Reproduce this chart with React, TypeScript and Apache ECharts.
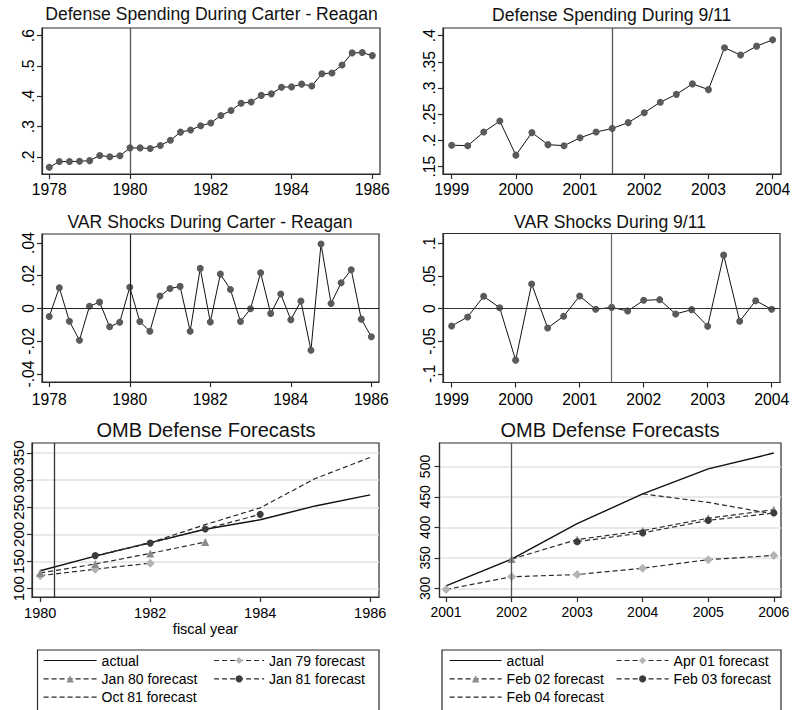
import React, { useEffect, useRef } from 'react';
import * as echarts from 'echarts';

const FONT = '"Liberation Sans", Arial, Helvetica, sans-serif';

// ---------- Data ----------
// Quarterly defense spending (share), Carter-Reagan, from 1978Q1
const carterStartYear = 1978;
const carterSpending = [
  0.166, 0.185, 0.185, 0.186, 0.188, 0.205, 0.201, 0.204, 0.23, 0.23, 0.228,
  0.238, 0.255, 0.282, 0.289, 0.303, 0.312, 0.337, 0.353, 0.377, 0.381, 0.403,
  0.408, 0.43, 0.431, 0.44, 0.434, 0.474, 0.477, 0.503, 0.543, 0.544, 0.534,
];
const carterShocks = [
  -0.0049, 0.0127, -0.0078, -0.0194, 0.0014, 0.0039, -0.0112, -0.0084, 0.013,
  -0.008, -0.0139, 0.0076, 0.0122, 0.0135, -0.0139, 0.0245, -0.0082, 0.021,
  0.0116, -0.008, -0.0002, 0.0218, -0.0031, 0.0088, -0.0069, 0.0045, -0.0255,
  0.0394, 0.0031, 0.0157, 0.0237, -0.0065, -0.0173,
];
// Quarterly, 9/11 period, from 1999Q1
const nineElevenStartYear = 1999;
const nineElevenSpending = [
  0.191, 0.19, 0.216, 0.237, 0.172, 0.215, 0.192, 0.19, 0.205, 0.216, 0.223,
  0.234, 0.253, 0.273, 0.288, 0.308, 0.297, 0.377, 0.363, 0.38, 0.392,
];
const nineElevenShocks = [
  -0.0265, -0.0128, 0.0189, 0.0015, -0.079, 0.0378, -0.0296, -0.0117, 0.0194,
  -0.001, 0.002, -0.0036, 0.0128, 0.0138, -0.0082, -0.0015, -0.027, 0.0821,
  -0.0194, 0.0122, -0.001,
];
const carterEventYear = 1980;
const nineElevenEventYear = 2001.5;

// OMB forecasts, Carter-Reagan
const actual80Years = [1980, 1981, 1982, 1983, 1984, 1985, 1986];
const actual80 = [133, 160, 185, 209.5, 227, 252.5, 273];
const jan79Years = [1980, 1981, 1982];
const jan79 = [124, 136, 147];
const jan80Years = [1980, 1981, 1982, 1983];
const jan80 = [129, 145.5, 165, 186];
const jan81Years = [1981, 1982, 1983, 1984];
const jan81 = [161, 184, 210, 237];
const oct81Years = [1981, 1982, 1983, 1984, 1985, 1986];
const oct81 = [160, 185, 218, 249, 303, 342];
const omb80EventYear = 1980.25;

// OMB forecasts, 9/11
const actual01Years = [2001, 2002, 2003, 2004, 2005, 2006];
const actual01 = [304, 348, 406, 455, 496, 522];
const apr01Years = [2001, 2002, 2003, 2004, 2005, 2006];
const apr01 = [298, 319, 322.5, 333, 347, 354];
const feb02Years = [2002, 2003, 2004, 2005, 2006];
const feb02 = [348, 380, 394.5, 415, 429];
const feb03Years = [2003, 2004, 2005, 2006];
const feb03 = [376.5, 391, 411.5, 423.5];
const feb04Years = [2004, 2005, 2006];
const feb04 = [455, 441, 422];
const omb01EventYear = 2002;

// Tick values
const carterYearTicks = [1978, 1980, 1982, 1984, 1986];
const nineElevenYearTicks = [1999, 2000, 2001, 2002, 2003, 2004];
const carterSpendingTicks = [0.2, 0.3, 0.4, 0.5, 0.6];
const nineElevenSpendingTicks = [0.15, 0.2, 0.25, 0.3, 0.35, 0.4];
const carterShockTicks = [-0.04, -0.02, 0, 0.02, 0.04];
const nineElevenShockTicks = [-0.1, -0.05, 0, 0.05, 0.1];
const omb80YearTicks = [1980, 1982, 1984, 1986];
const omb80ValueTicks = [100, 150, 200, 250, 300, 350];
const omb01YearTicks = [2001, 2002, 2003, 2004, 2005, 2006];
const omb01ValueTicks = [300, 350, 400, 450, 500];

// ---------- Helpers ----------
const quarterly = (start: number, vals: number[]) =>
  vals.map((v, i) => [start + i * 0.25, v]);
const pairs = (xs: number[], ys: number[]) => xs.map((x, i) => [x, ys[i]]);

const stataNum = (v: number) => {
  const s = String(+Number(v).toFixed(4));
  return s.replace(/^0\./, '.').replace(/^-0\./, '-.');
};

const AXIS_COLOR = '#2a2a2a';

function xAx(grid: number, min: number, max: number, ticks: number[], fontSize: number, margin: number, extra: any = {}) {
  return {
    type: 'value',
    gridIndex: grid,
    min,
    max,
    axisLine: { show: true, onZero: false, lineStyle: { color: AXIS_COLOR, width: 1.2 } },
    axisTick: { show: true, length: 5, customValues: ticks, lineStyle: { color: AXIS_COLOR, width: 1.2 } },
    axisLabel: {
      customValues: ticks,
      fontSize,
      color: '#000',
      fontFamily: FONT,
      margin,
      formatter: (v: number) => String(v),
    },
    splitLine: { show: false },
    ...extra,
  };
}

function yAx(grid: number, min: number, max: number, ticks: number[], fontSize: number, margin: number, gridLines = false) {
  return {
    type: 'value',
    gridIndex: grid,
    min,
    max,
    axisLine: { show: true, onZero: false, lineStyle: { color: AXIS_COLOR, width: 1.2 } },
    axisTick: { show: true, length: 5, customValues: ticks, lineStyle: { color: AXIS_COLOR, width: 1.2 } },
    axisLabel: {
      customValues: ticks,
      fontSize,
      color: '#000',
      fontFamily: FONT,
      margin,
      rotate: 90,
      formatter: (v: number) => stataNum(v),
    },
    splitLine: gridLines
      ? { show: true, lineStyle: { color: '#e2e2e2', width: 1.6 } }
      : { show: false },
  };
}

const vLine = (x: number, color = '#555') => ({
  silent: true,
  symbol: ['none', 'none'],
  label: { show: false },
  lineStyle: { color, width: 1.3, type: 'solid' },
  data: [{ xAxis: x }],
});

const gridBox = (left: number, top: number, width: number, height: number) => ({
  left,
  top,
  width,
  height,
  show: true,
  borderColor: AXIS_COLOR,
  borderWidth: 1.2,
  backgroundColor: 'transparent',
  containLabel: false,
  outerBoundsMode: 'none',
});

const titleAt = (text: string, x: number, y: number, size: number) => ({
  text,
  left: x,
  top: y,
  padding: 0,
  textAlign: 'center',
  textVerticalAlign: 'top',
  textStyle: { fontSize: size, fontWeight: 'normal', color: '#111', fontFamily: FONT },
});

const dotSeries = (grid: number, data: number[][], mark: any) => ({
  type: 'line',
  xAxisIndex: grid,
  yAxisIndex: grid,
  data,
  symbol: 'circle',
  symbolSize: 7,
  showSymbol: true,
  itemStyle: { color: '#5a5a5a' },
  lineStyle: { color: '#111', width: 1 },
  markLine: mark,
  z: 3,
});

const DASH = [5, 3];
const fcSeries = (grid: number, name: string, data: number[][], symbol: string, symbolColor: string, symbolSize: number, dashed: boolean, mark?: any) => ({
  type: 'line',
  name,
  xAxisIndex: grid,
  yAxisIndex: grid,
  data,
  symbol,
  symbolSize,
  showSymbol: symbol !== 'none',
  itemStyle: { color: symbolColor },
  lineStyle: { color: dashed ? '#2a2a2a' : '#111', width: dashed ? 1.2 : 1.4, type: dashed ? DASH : 'solid' },
  markLine: mark,
  z: 3,
});

// legend entries whose series have no markers: hide the legend symbol
const plainNames = ['actual', 'Oct 81 forecast', 'Feb 04 forecast'];
const legendItem = (name: string) =>
  plainNames.includes(name)
    ? { name, itemStyle: { color: 'rgba(0,0,0,0)', borderColor: 'rgba(0,0,0,0)', borderWidth: 0 } }
    : { name };

const legendCol = (names: string[], left: number, top: number, itemWidth: number) => ({
  data: names.map(legendItem),
  orient: 'vertical',
  left,
  top,
  padding: 0,
  itemWidth,
  itemHeight: 9,
  itemGap: 4.3,
  selectedMode: false,
  lineStyle: { width: 1.2 },
  textStyle: { fontSize: 14, color: '#000', fontFamily: FONT },
});

export default function App() {
  const ref = useRef<HTMLDivElement>(null);

  useEffect(() => {
    if (!ref.current) return;
    const chart = echarts.init(ref.current, undefined, { renderer: 'svg' });

    const option: any = {
      animation: false,
      backgroundColor: '#fff',
      textStyle: { fontFamily: FONT },
      title: [
        titleAt('Defense Spending During Carter - Reagan', 211.5, 5, 17.6),
        titleAt('Defense Spending During 9/11', 611.7, 6, 17.6),
        titleAt('VAR Shocks During Carter - Reagan', 210, 212.5, 17.6),
        titleAt('VAR Shocks During 9/11', 610, 212.5, 17.6),
        titleAt('OMB Defense Forecasts', 206, 420, 20),
        titleAt('OMB Defense Forecasts', 610, 420, 20),
      ],
      grid: [
        gridBox(42, 28, 338, 146),
        gridBox(443, 28, 338, 146),
        gridBox(42, 234, 337, 148),
        gridBox(443, 233.5, 337, 149),
        gridBox(32, 443, 347, 154),
        gridBox(439.5, 443, 341.5, 154),
      ],
      xAxis: [
        xAx(0, 1977.82, 1986.19, carterYearTicks, 15.7, 7),
        xAx(1, 1998.865, 2004.13, nineElevenYearTicks, 15.7, 7),
        xAx(2, 1977.82, 1986.19, carterYearTicks, 15.7, 9),
        xAx(3, 1998.865, 2004.13, nineElevenYearTicks, 15.7, 9),
        xAx(4, 1979.85, 1986.16, omb80YearTicks, 14.5, 8, {
          name: 'fiscal year',
          nameLocation: 'middle',
          nameGap: 24,
          nameTextStyle: { fontSize: 14.5, color: '#000', fontFamily: FONT },
        }),
        xAx(5, 2000.9, 2006.11, omb01YearTicks, 14, 8),
      ],
      yAxis: [
        yAx(0, 0.144, 0.625, carterSpendingTicks, 15.7, 6),
        yAx(1, 0.136, 0.4146, nineElevenSpendingTicks, 15.7, 6),
        yAx(2, -0.0449, 0.0455, carterShockTicks, 15.7, 6),
        yAx(3, -0.1133, 0.1153, nineElevenShockTicks, 15.7, 6),
        yAx(4, 84.7, 368.5, omb80ValueTicks, 15, 6, true),
        yAx(5, 285.7, 538.5, omb01ValueTicks, 14, 8, true),
      ],
      legend: [
        legendCol(['actual', 'Jan 80 forecast', 'Oct 81 forecast'], 43, 653.5, 53),
        legendCol(['Jan 79 forecast', 'Jan 81 forecast'], 213.5, 653.5, 50),
        legendCol(['actual', 'Feb 02 forecast', 'Feb 04 forecast'], 449, 653.5, 52),
        legendCol(['Apr 01 forecast', 'Feb 03 forecast'], 616, 653.5, 52),
      ],
      graphic: [
        {
          type: 'rect',
          silent: true,
          shape: { x: 37.5, y: 650, width: 341.5, height: 80 },
          style: { fill: 'none', stroke: AXIS_COLOR, lineWidth: 1.2 },
        },
        {
          type: 'rect',
          silent: true,
          shape: { x: 442, y: 650, width: 339, height: 80 },
          style: { fill: 'none', stroke: AXIS_COLOR, lineWidth: 1.2 },
        },
      ],
      series: [
        dotSeries(0, quarterly(carterStartYear, carterSpending), vLine(carterEventYear)),
        dotSeries(1, quarterly(nineElevenStartYear, nineElevenSpending), vLine(nineElevenEventYear)),
        dotSeries(2, quarterly(carterStartYear, carterShocks), {
          silent: true,
          symbol: ['none', 'none'],
          label: { show: false },
          lineStyle: { color: '#222', width: 1.2, type: 'solid' },
          data: [{ xAxis: carterEventYear }, { yAxis: 0 }],
        }),
        dotSeries(3, quarterly(nineElevenStartYear, nineElevenShocks), {
          silent: true,
          symbol: ['none', 'none'],
          label: { show: false },
          lineStyle: { color: '#333', width: 1.2, type: 'solid' },
          data: [{ xAxis: nineElevenEventYear, lineStyle: { color: '#666' } }, { yAxis: 0 }],
        }),
        // OMB 1980s
        fcSeries(4, 'actual', pairs(actual80Years, actual80), 'none', '#111', 0, false, vLine(omb80EventYear, '#333')),
        fcSeries(4, 'Jan 79 forecast', pairs(jan79Years, jan79), 'diamond', '#b4b4b4', 9, true),
        fcSeries(4, 'Jan 80 forecast', pairs(jan80Years, jan80), 'triangle', '#8c8c8c', 8, true),
        fcSeries(4, 'Jan 81 forecast', pairs(jan81Years, jan81), 'circle', '#3c3c3c', 7, true),
        fcSeries(4, 'Oct 81 forecast', pairs(oct81Years, oct81), 'none', '#2a2a2a', 0, true),
        // OMB 2000s
        fcSeries(5, 'actual', pairs(actual01Years, actual01), 'none', '#111', 0, false, vLine(omb01EventYear, '#555')),
        fcSeries(5, 'Apr 01 forecast', pairs(apr01Years, apr01), 'diamond', '#b4b4b4', 9, true),
        fcSeries(5, 'Feb 02 forecast', pairs(feb02Years, feb02), 'triangle', '#8c8c8c', 8, true),
        fcSeries(5, 'Feb 03 forecast', pairs(feb03Years, feb03), 'circle', '#3c3c3c', 7, true),
        fcSeries(5, 'Feb 04 forecast', pairs(feb04Years, feb04), 'none', '#2a2a2a', 0, true),
      ],
    };

    chart.setOption(option);
    return () => chart.dispose();
  }, []);

  return (
    <div
      ref={ref}
      style={{ position: 'fixed', left: 0, top: 0, width: 793, height: 710, background: '#fff' }}
    />
  );
}
